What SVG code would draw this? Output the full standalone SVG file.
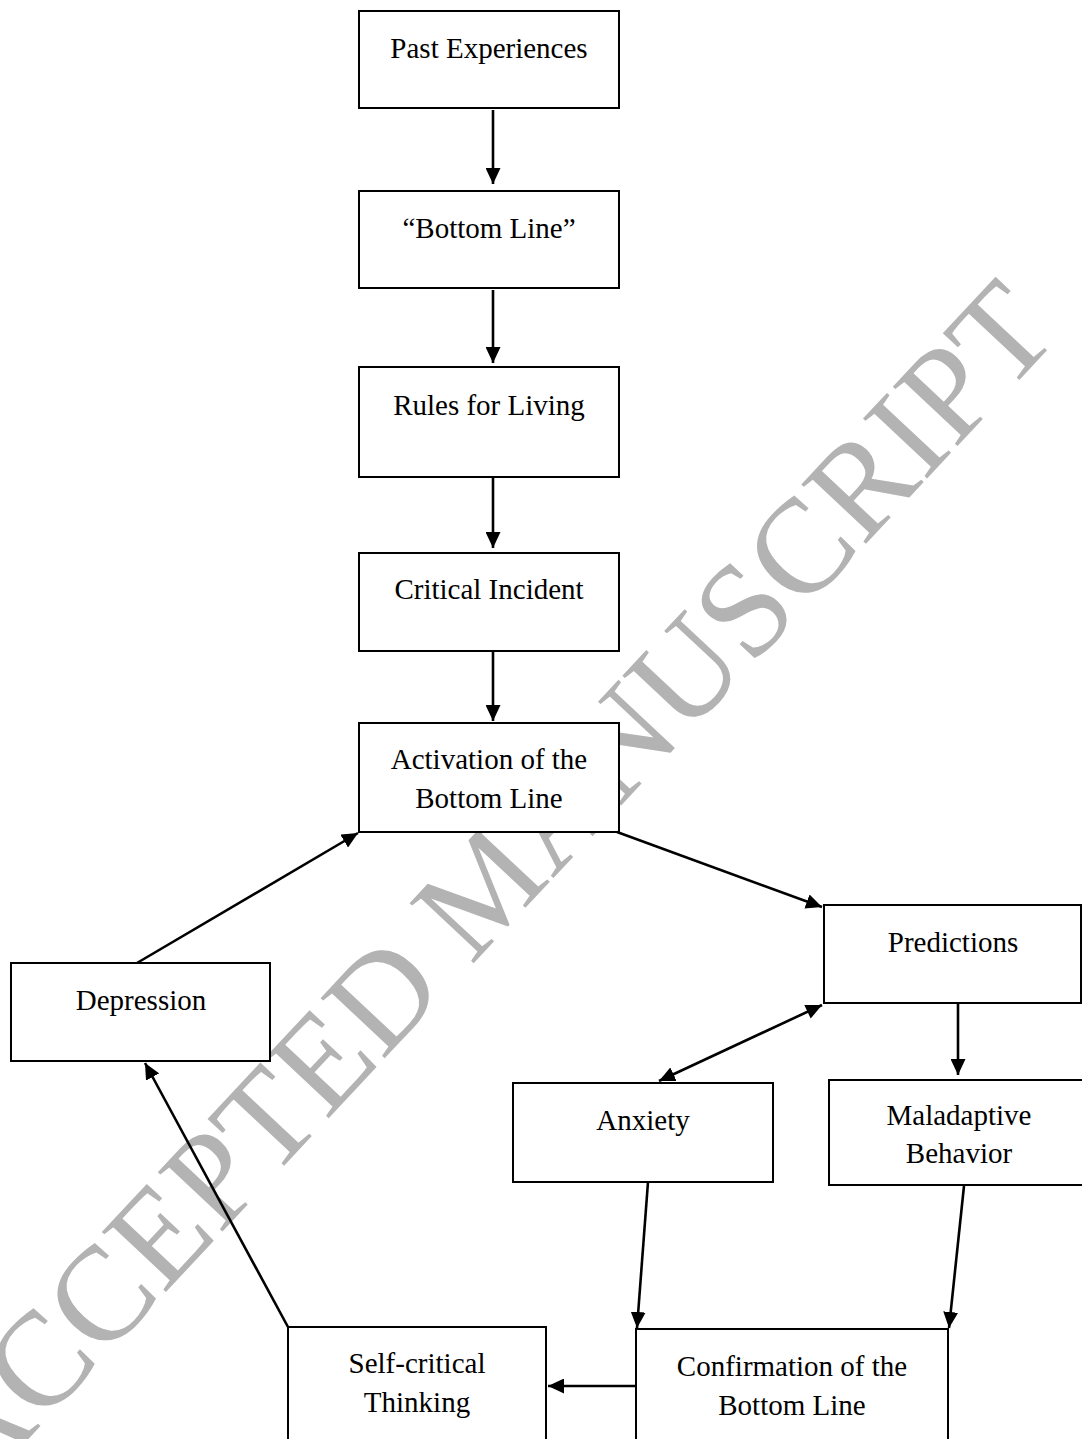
<svg xmlns="http://www.w3.org/2000/svg" width="1082" height="1439" viewBox="0 0 1082 1439">
  <style>
    .box { fill: #ffffff; stroke: #000000; stroke-width: 2; }
    .lbl { font-family: "Liberation Serif", "Times New Roman", serif; font-size: 29px; fill: #000000; text-anchor: middle; }
    .edge { stroke: #000000; stroke-width: 2.6; fill: none; }
    .wm { font-family: "Liberation Serif", "Times New Roman", serif; font-size: 134px; fill: #b3b3b3; }
  </style>
  <defs>
    <marker id="ah" markerUnits="userSpaceOnUse" markerWidth="17" markerHeight="15" refX="16" refY="7.5" orient="auto">
      <path d="M0,0 L16,7.5 L0,15 z" fill="#000000"/>
    </marker>
    <marker id="ahs" markerUnits="userSpaceOnUse" markerWidth="17" markerHeight="15" refX="0" refY="7.5" orient="auto">
      <path d="M16,0 L0,7.5 L16,15 z" fill="#000000"/>
    </marker>
  </defs>
  <rect x="0" y="0" width="1082" height="1439" fill="#ffffff"/>

  <g id="watermark">
    <text class="wm" x="-25" y="1496" transform="rotate(-46.9 -25 1496)">ACCEPTED MANUSCRIPT</text>
  </g>

  <g id="node-past">
    <rect class="box" x="359" y="11" width="260" height="97"/>
    <text class="lbl" x="489" y="58">Past Experiences</text>
  </g>
  <g id="node-bottomline">
    <rect class="box" x="359" y="191" width="260" height="97"/>
    <text class="lbl" x="489" y="238">“Bottom Line”</text>
  </g>
  <g id="node-rules">
    <rect class="box" x="359" y="367" width="260" height="110"/>
    <text class="lbl" x="489" y="415">Rules for Living</text>
  </g>
  <g id="node-critical">
    <rect class="box" x="359" y="553" width="260" height="98"/>
    <text class="lbl" x="489" y="599">Critical Incident</text>
  </g>
  <g id="node-activation">
    <rect class="box" x="359" y="723" width="260" height="109"/>
    <text class="lbl" x="489" y="769">Activation of the</text>
    <text class="lbl" x="489" y="808">Bottom Line</text>
  </g>
  <g id="node-predictions">
    <rect class="box" x="824" y="905" width="257" height="98"/>
    <text class="lbl" x="953" y="952">Predictions</text>
  </g>
  <g id="node-depression">
    <rect class="box" x="11" y="963" width="259" height="98"/>
    <text class="lbl" x="141" y="1010">Depression</text>
  </g>
  <g id="node-anxiety">
    <rect class="box" x="513" y="1083" width="260" height="99"/>
    <text class="lbl" x="643" y="1130">Anxiety</text>
  </g>
  <g id="node-maladaptive">
    <rect class="box" x="829" y="1080" width="259" height="105"/>
    <text class="lbl" x="959" y="1125">Maladaptive</text>
    <text class="lbl" x="959" y="1163">Behavior</text>
  </g>
  <g id="node-selfcritical">
    <rect class="box" x="288" y="1327" width="258" height="130"/>
    <text class="lbl" x="417" y="1373">Self-critical</text>
    <text class="lbl" x="417" y="1412">Thinking</text>
  </g>
  <g id="node-confirmation">
    <rect class="box" x="636" y="1329" width="312" height="130"/>
    <text class="lbl" x="792" y="1376">Confirmation of the</text>
    <text class="lbl" x="792" y="1415">Bottom Line</text>
  </g>

  <g id="connectors">
    <line class="edge" x1="493" y1="110" x2="493" y2="184" marker-end="url(#ah)"/>
    <line class="edge" x1="493" y1="290" x2="493" y2="363" marker-end="url(#ah)"/>
    <line class="edge" x1="493" y1="478" x2="493" y2="548" marker-end="url(#ah)"/>
    <line class="edge" x1="493" y1="652" x2="493" y2="721" marker-end="url(#ah)"/>
    <line class="edge" x1="617" y1="832" x2="822" y2="907" marker-end="url(#ah)"/>
    <line class="edge" x1="822" y1="1005" x2="659" y2="1081" marker-start="url(#ahs)" marker-end="url(#ah)"/>
    <line class="edge" x1="958" y1="1004" x2="958" y2="1075" marker-end="url(#ah)"/>
    <line class="edge" x1="648" y1="1182" x2="637" y2="1328" marker-end="url(#ah)"/>
    <line class="edge" x1="964" y1="1186" x2="949" y2="1328" marker-end="url(#ah)"/>
    <line class="edge" x1="637" y1="1386" x2="548" y2="1386" marker-end="url(#ah)"/>
    <line class="edge" x1="288" y1="1327" x2="145" y2="1063" marker-end="url(#ah)"/>
    <line class="edge" x1="137" y1="963" x2="358" y2="833" marker-end="url(#ah)"/>
  </g>
</svg>
